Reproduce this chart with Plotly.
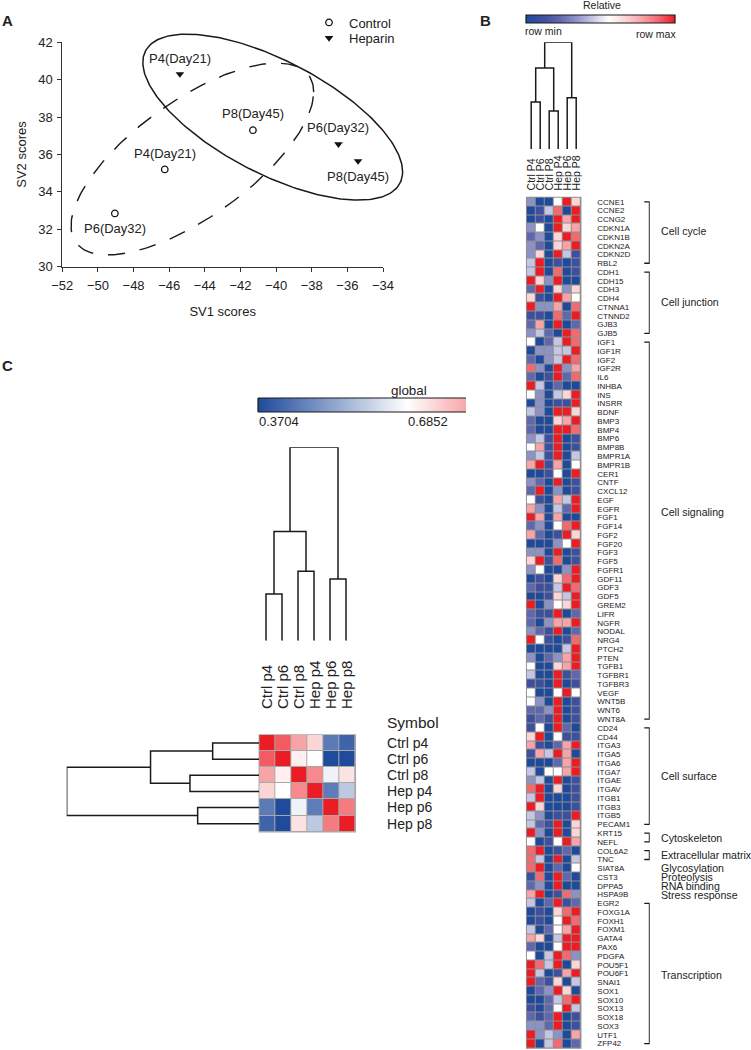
import math
import plotly.graph_objects as go

W, H = 751, 1050
FONT = "Liberation Sans"
INK = "#222222"

# ---------- Panel A ----------
ctrl_x = [-41.3, -46.25, -49.05]
ctrl_y = [37.3, 35.2, 32.85]
ctrl_labels = ["P8(Day45)", "P4(Day21)", "P6(Day32)"]
ctrl_shift = [17, 16, -15]
hep_x = [-45.4, -36.5, -35.4]
hep_y = [40.3, 36.55, 35.65]
hep_labels = ["P4(Day21)", "P6(Day32)", "P8(Day45)"]
hep_shift = [16, 17, -15]
# ellipse: centre x, centre y, half width, half height, phase
ell_hep = (-40.19, 38.0, 7.29, 4.44, 2.29)
ell_ctrl = (-44.70, 35.76, 6.81, 5.13, 0.80)

# ---------- Panel B ----------
genes = """CCNE1 CCNE2 CCNG2 CDKN1A CDKN1B CDKN2A CDKN2D RBL2 CDH1 CDH15 CDH3 CDH4 CTNNA1 CTNND2 GJB3 GJB5
IGF1 IGF1R IGF2 IGF2R IL6 INHBA INS INSRR BDNF BMP3 BMP4 BMP6 BMP8B BMPR1A BMPR1B CER1 CNTF CXCL12 EGF EGFR
FGF1 FGF14 FGF2 FGF20 FGF3 FGF5 FGFR1 GDF11 GDF3 GDF5 GREM2 LIFR NGFR NODAL NRG4 PTCH2 PTEN TGFB1 TGFBR1
TGFBR3 VEGF WNT5B WNT6 WNT8A CD24 CD44 ITGA3 ITGA5 ITGA6 ITGA7 ITGAE ITGAV ITGB1 ITGB3 ITGB5 PECAM1 KRT15
NEFL COL6A2 TNC SIAT8A CST3 DPPA5 HSPA9B EGR2 FOXG1A FOXH1 FOXM1 GATA4 PAX6 PDGFA POU5F1 POU6F1 SNAI1 SOX1
SOX10 SOX13 SOX18 SOX3 UTF1 ZFP42""".split()
b_cols = ["Ctrl P4", "Ctrl P6", "Ctrl P8", "Hep P4", "Hep P6", "Hep P8"]
b_rows = """300596 014809 010979 350967 230698 320679 360941 490101
490801 963900 290636 610975 933708 110829 270902 342098
502498 033449 203498 830937 201928 940200 530469 030119
430996 200679 200998 341901 571901 341904 791705 001509
320901 290301 510749 730429 970700 230589 720196 000359
330901 691801 350039 010689 211498 001649 903569 211902
203779 321902 951018 000049 302379 500679 400912 110901
500595 530901 223901 121901 150920 690511 710279 174970
000279 405579 340901 890601 490001 960001 430119 421906
930906 501597 890120 840904 890205 180920 230900 790183
402912 010689 010598 402579 760499 200599 504983 984906
940179 921604 023960 002489 102594 212901 332901 934307
904802""".split()
b_matrix = [[int(c) for c in row] for row in b_rows]
b_merges = [(0, 1, 0.44), (2, 3, 0.356), (6, 7, 0.76), (4, 5, 0.48), (8, 9, 1.0)]
# group, first gene, last gene, label nudge in px
groups = [("Cell cycle", "CCNE1", "RBL2", 2), ("Cell junction", "CDH1", "GJB5", 1),
          ("Cell signaling", "IGF1", "WNT8A", 19), ("Cell surface", "CD24", "PECAM1", 0),
          ("Cytoskeleton", "KRT15", "NEFL", 0), ("Extracellular matrix", "COL6A2", "TNC", 0),
          ("Transcription", "EGR2", "ZFP42", -2)]
single_groups = [("Glycosylation", "SIAT8A"), ("Proteolysis", "CST3"),
                 ("RNA binding", "DPPA5"), ("Stress response", "HSPA9B")]

# ---------- Panel C ----------
c_labels = ["Ctrl p4", "Ctrl p6", "Ctrl p8", "Hep p4", "Hep p6", "Hep p8"]
c_matrix = [[1.000, 0.912, 0.811, 0.742, 0.455, 0.415],
            [0.912, 1.000, 0.707, 0.685, 0.372, 0.372],
            [0.811, 0.707, 1.000, 0.849, 0.663, 0.726],
            [0.742, 0.685, 0.849, 1.000, 0.458, 0.591],
            [0.455, 0.372, 0.663, 0.458, 1.000, 0.868],
            [0.415, 0.372, 0.726, 0.591, 0.868, 1.000]]
c_merges = [(0, 1, 0.241), (2, 3, 0.359), (6, 7, 0.564), (4, 5, 0.319), (8, 9, 1.0)]
c_zmin, c_white, c_zmax = 0.3704, 0.6852, 1.0

BLUE, RED = "#1f4a9c", "#ec1c24"
b_scale = [[i / 9, c] for i, c in enumerate(
    [BLUE, "#3d4f9f", "#5f67ae", "#8d92c6", "#c4c6e3", "#ffffff", "#fcd5d7", "#f7a3a7", "#f16a70", RED])]
c_scale = [[0, BLUE], [0.5, "#ffffff"], [1, RED]]


def dx(a, b):
    return [a / W, b / W]


def dy(top, bottom):
    return [1 - bottom / H, 1 - top / H]


def dendro(merges, n):
    pos = {i: (float(i), 0.0) for i in range(n)}
    xs, ys = [], []
    for k, (a, b, h) in enumerate(merges):
        ax, ah = pos[a]
        bx, bh = pos[b]
        xs += [ax, ax, bx, bx, None]
        ys += [ah, h, h, bh, None]
        pos[n + k] = ((ax + bx) / 2, h)
    return xs, ys


def ellipse(p, steps=240):
    cx, cy, a, b, phi = p
    ts = [2 * math.pi * i / steps for i in range(steps + 1)]
    return [cx + a * math.cos(t) for t in ts], [cy + b * math.cos(t - phi) for t in ts]


fig = go.Figure()
DARK = dict(color="#1a1a1a", width=1.5)

# Panel A (ellipses on an unclipped twin of the axes with the same px/unit scale)
ex, ey = ellipse(ell_ctrl)
fig.add_trace(go.Scatter(x=ex, y=ey, xaxis="x8", yaxis="y8", mode="lines", showlegend=False, hoverinfo="skip",
                         line=dict(color="#1a1a1a", width=1.4, dash="17px,15px")))
ex, ey = ellipse(ell_hep)
fig.add_trace(go.Scatter(x=ex, y=ey, xaxis="x8", yaxis="y8", mode="lines", showlegend=False, hoverinfo="skip",
                         line=dict(color="#1a1a1a", width=1.5)))
fig.add_trace(go.Scatter(x=ctrl_x, y=ctrl_y, mode="markers", name="Control", cliponaxis=False, legend="legend",
                         marker=dict(symbol="circle-open", size=6.5, color="#111", line=dict(width=1.3, color="#111"))))
fig.add_trace(go.Scatter(x=hep_x, y=hep_y, mode="markers", name="Heparin", cliponaxis=False, legend="legend2",
                         marker=dict(symbol="triangle-down", size=7.5, color="#111", line=dict(width=0))))

# Panel B
fig.add_trace(go.Heatmap(z=b_matrix, x=b_cols, y=genes, xaxis="x2", yaxis="y2", zmin=0, zmax=9,
                         colorscale=b_scale, xgap=1, ygap=1, showscale=False))
dxs, dys = dendro(b_merges, 6)
fig.add_trace(go.Scatter(x=dxs, y=dys, xaxis="x3", yaxis="y3", mode="lines", showlegend=False,
                         cliponaxis=False, hoverinfo="skip", line=DARK))
bx, by = [], []
for name, first, last, _ in groups:
    bx += [0, 1, 1, 0, None]
    by += [first, first, last, last, None]
fig.add_trace(go.Scatter(x=bx, y=by, xaxis="x4", yaxis="y2", mode="lines", showlegend=False,
                         hoverinfo="skip", line=dict(color="#1a1a1a", width=1.3)))
# colour ramp of the "Relative" bar
ramp_b = [i / 20 for i in range(181)]
fig.add_trace(go.Heatmap(z=[ramp_b], xaxis="x9", yaxis="y9", zmin=0, zmax=9, colorscale=b_scale,
                         showscale=False, hoverinfo="skip"))

# Panel C
fig.add_trace(go.Heatmap(z=c_matrix, x=c_labels, y=c_labels, xaxis="x5", yaxis="y5", zmin=c_zmin, zmax=c_zmax,
                         colorscale=c_scale, xgap=1, ygap=1, showscale=False))
dxs, dys = dendro(c_merges, 6)
fig.add_trace(go.Scatter(x=dxs, y=dys, xaxis="x6", yaxis="y6", mode="lines", showlegend=False,
                         cliponaxis=False, hoverinfo="skip", line=DARK))
fig.add_trace(go.Scatter(x=dys, y=dxs, xaxis="x7", yaxis="y7", mode="lines", showlegend=False,
                         cliponaxis=False, hoverinfo="skip", line=DARK))
# clipped ramp of the "global" bar: white at 72 % of its width
ramp_c = [c_zmin + (c_white - c_zmin) * i / 144 for i in range(201)]
fig.add_trace(go.Heatmap(z=[ramp_c], xaxis="x10", yaxis="y10", zmin=c_zmin, zmax=c_zmax, colorscale=c_scale,
                         showscale=False, hoverinfo="skip"))


def note(text, x, y, size, xanchor="left", xref="paper", yref="paper", yanchor="middle", **kw):
    return dict(text=text, x=x, y=y, xref=xref, yref=yref, xanchor=xanchor, yanchor=yanchor, showarrow=False,
                font=dict(size=size, color=INK, family=FONT), **kw)


ann = []
for xs, ys, ls, sh in ((ctrl_x, ctrl_y, ctrl_labels, ctrl_shift), (hep_x, hep_y, hep_labels, hep_shift)):
    for x, y, l, s in zip(xs, ys, ls, sh):
        ann.append(note(l, x, y, 13, xanchor="center", xref="x", yref="y", yshift=s))
for letter, x, y in (("A", 0, 20), ("B", 478, 20), ("C", 0, 366)):
    ann.append(note(f"<b>{letter}</b>", x / W, 1 - y / H, 15))
ann.append(note("Relative", 601.7 / W, 1 - 5 / H, 10.5, xanchor="center"))
ann.append(note("row min", 523 / W, 1 - 31.3 / H, 10.5))
ann.append(note("row max", 677.5 / W, 1 - 34 / H, 10.5, xanchor="right"))
ann.append(note("global", 408.7 / W, 1 - 390 / H, 13.4, xanchor="center"))
ann.append(note("0.3704", 256.5 / W, 1 - 421.7 / H, 13))
ann.append(note("0.6852", 428.3 / W, 1 - 421.7 / H, 13, xanchor="center"))
ann.append(note("Symbol", 385 / W, 1 - 722.7 / H, 15.5))
for name, first, last, nudge in groups:
    mid = (genes.index(first) + genes.index(last)) / 2
    ann.append(note(name, 659 / W, mid, 10.6, yref="y2", yshift=nudge))
for name, gene in single_groups:
    ann.append(note(name, 659 / W, genes.index(gene), 10.6, yref="y2"))

hide = dict(visible=False, fixedrange=True)
tick_font = dict(size=13, color=INK, family=FONT)
row_font = dict(size=14, color=INK, family=FONT)
A_X0, A_X1, A_Y0, A_Y1 = 62.3, 383, 42.3, 266.7
px_x = (A_X1 - A_X0) / 18
px_y = (A_Y1 - A_Y0) / 12
fig.update_layout(
    template="none",
    width=W, height=H, autosize=False, margin=dict(l=0, r=0, t=0, b=0),
    paper_bgcolor="white", plot_bgcolor="rgba(0,0,0,0)",
    font=dict(family=FONT, color=INK),
    annotations=ann,
    legend=dict(x=309 / W, xanchor="left", y=1 - 7.5 / H, yanchor="top", font=tick_font,
                bgcolor="rgba(0,0,0,0)", itemclick=False),
    legend2=dict(x=309 / W, xanchor="left", y=1 - 23 / H, yanchor="top", font=tick_font,
                 bgcolor="rgba(0,0,0,0)", itemclick=False),
    shapes=[
        # grid colour behind the heatmap cells
        dict(type="rect", xref="x2 domain", yref="y2 domain", x0=0, x1=1, y0=0, y1=1, layer="below",
             fillcolor="#8f8f8f", line=dict(color="#8f8f8f", width=1.5)),
        dict(type="rect", xref="x5 domain", yref="y5 domain", x0=0, x1=1, y0=0, y1=1, layer="below",
             fillcolor="#a8a8a8", line=dict(color="#a8a8a8", width=1.5)),
        # frame of the "Relative" bar
        dict(type="rect", xref="x9 domain", yref="y9 domain", x0=0, x1=1, y0=0, y1=1, layer="above",
             line=dict(color="#1a1a1a", width=1.2)),
        # open-ended frame of the clipped "global" bar
        dict(type="line", xref="x10 domain", yref="y10 domain", x0=0, x1=1, y0=1, y1=1,
             line=dict(color="#1a1a1a", width=1.2)),
        dict(type="line", xref="x10 domain", yref="y10 domain", x0=0, x1=1, y0=0, y1=0,
             line=dict(color="#1a1a1a", width=1.2)),
        dict(type="line", xref="x10 domain", yref="y10 domain", x0=0, x1=0, y0=0, y1=1,
             line=dict(color="#1a1a1a", width=1.2)),
    ],
    xaxis=dict(domain=dx(A_X0, A_X1), range=[-52, -34], dtick=2, tick0=-52, anchor="y", showgrid=False, zeroline=False,
               showline=True, linecolor="#333", linewidth=1, ticks="outside", ticklen=4, tickcolor="#333",
               tickfont=tick_font, ticklabelstandoff=3, title=dict(text="SV1 scores", font=tick_font)),
    yaxis=dict(domain=dy(A_Y0, A_Y1), range=[30, 42], dtick=2, anchor="x", showgrid=False, zeroline=False,
               showline=True, linecolor="#333", linewidth=1, ticks="outside", ticklen=4, tickcolor="#333",
               tickfont=tick_font, ticklabelstandoff=2, title=dict(text="SV2 scores", font=tick_font)),
    xaxis2=dict(domain=dx(526.7, 580.7), anchor="y2", side="top", type="category", tickangle=-90,
                tickmode="array", tickvals=b_cols,
                tickfont=dict(size=10.5, color=INK, family=FONT), ticks="outside", ticklen=4,
                tickcolor="rgba(0,0,0,0)", showgrid=False, zeroline=False),
    yaxis2=dict(domain=dy(197.5, 1048), anchor="x2", side="right", type="category", categoryorder="array",
                categoryarray=genes, range=[len(genes) - 0.5, -0.5], tickmode="array", tickvals=genes,
                tickfont=dict(size=8, color=INK, family=FONT), ticks="outside", ticklen=14,
                tickcolor="rgba(0,0,0,0)", showgrid=False, zeroline=False),
    xaxis3=dict(domain=dx(526.7, 580.7), range=[-0.5, 5.5], anchor="y3", **hide),
    yaxis3=dict(domain=dy(42.3, 149), range=[0, 1], anchor="x3", **hide),
    xaxis4=dict(domain=dx(644, 649.7), range=[-0.05, 1.05], anchor="y2", **hide),
    xaxis5=dict(domain=dx(259.3, 355.3), anchor="y5", side="top", type="category", tickangle=-90,
                tickmode="array", tickvals=c_labels,
                tickfont=dict(size=15, color=INK, family=FONT), ticks="outside", ticklen=22,
                tickcolor="rgba(0,0,0,0)", showgrid=False, zeroline=False),
    yaxis5=dict(domain=dy(735, 831.7), anchor="x5", side="right", type="category", autorange="reversed",
                tickmode="array", tickvals=c_labels,
                tickfont=row_font, ticks="outside", ticklen=28,
                tickcolor="rgba(0,0,0,0)", showgrid=False, zeroline=False),
    xaxis6=dict(domain=dx(258, 354), range=[-0.5, 5.5], anchor="y6", **hide),
    yaxis6=dict(domain=dy(447.3, 640.7), range=[0, 1], anchor="x6", **hide),
    xaxis7=dict(domain=dx(66.7, 259), range=[1, 0], anchor="y7", **hide),
    yaxis7=dict(domain=dy(735, 831.7), range=[5.5, -0.5], anchor="x7", **hide),
    xaxis8=dict(domain=dx(A_X0, A_X0 + 22 * px_x), range=[-52, -30], anchor="y8", **hide),
    yaxis8=dict(domain=dy(A_Y1 - 14 * px_y, A_Y1), range=[30, 44], anchor="x8", **hide),
    xaxis9=dict(domain=dx(526, 675), anchor="y9", **hide),
    yaxis9=dict(domain=dy(15, 23), anchor="x9", **hide),
    xaxis10=dict(domain=dx(258, 466), anchor="y10", **hide),
    yaxis10=dict(domain=dy(398, 412), anchor="x10", **hide),
)

fig.write_html("out.html", config={"displayModeBar": False},
               post_script="document.body.style.margin='0';document.body.style.overflow='hidden';")
